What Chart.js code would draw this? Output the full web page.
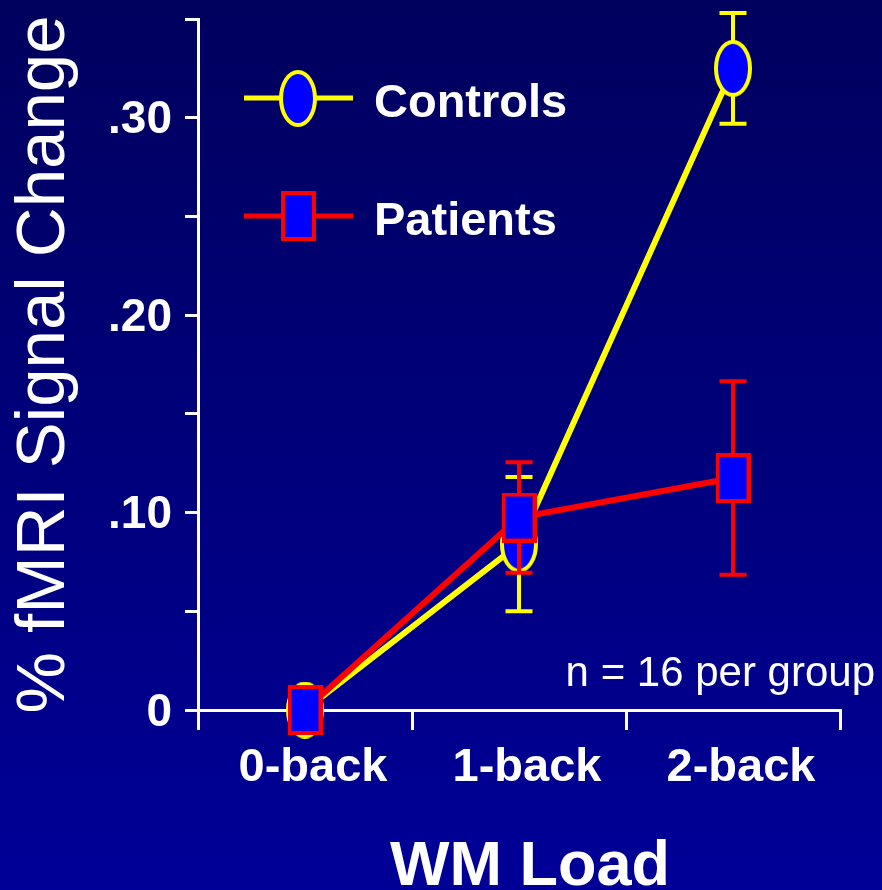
<!DOCTYPE html>
<html>
<head>
<meta charset="utf-8">
<title>fMRI Signal Change by WM Load</title>
<script src="https://cdn.jsdelivr.net/npm/chart.js@4/dist/chart.umd.min.js"></script>
<style>
  html, body { margin: 0; padding: 0; background: #000070; }
  canvas { display: block; }
</style>
</head>
<body>
<canvas id="chart" width="882" height="890"></canvas>
<script>
// Working-memory load conditions
const categories = ['0-back', '1-back', '2-back'];

// Mean % signal change and standard error per group
const controlsMean = [0, 0.084, 0.325];
const controlsSem  = [0, 0.034, 0.028];
const patientsMean = [0, 0.0975, 0.1175];
const patientsSem  = [0, 0.028, 0.049];

// Labelled y ticks (minor ticks every .05 stay unlabelled)
const yLabelValues = [0, 0.10, 0.20, 0.30];
const yLabelText   = ['0', '.10', '.20', '.30'];

const FONT = "'Liberation Sans', Arial, Helvetica, sans-serif";
const WHITE = '#FFFFFF';
const YELLOW = '#FFFF00';
const RED = '#FF0000';
const MARKER_FILL = '#0000FF';

// Marker images: yellow-rimmed ellipse and red-rimmed rectangle
function makeEllipse() {
  const c = document.createElement('canvas');
  c.width = 38; c.height = 57;
  const g = c.getContext('2d');
  g.beginPath();
  g.ellipse(19, 28.5, 17, 26.5, 0, 0, Math.PI * 2);
  g.fillStyle = MARKER_FILL;
  g.fill();
  g.lineWidth = 4;
  g.strokeStyle = YELLOW;
  g.stroke();
  return c;
}
function makeRect() {
  const c = document.createElement('canvas');
  c.width = 35; c.height = 50;
  const g = c.getContext('2d');
  g.fillStyle = MARKER_FILL;
  g.fillRect(0, 0, 35, 50);
  g.lineWidth = 4;
  g.strokeStyle = RED;
  g.strokeRect(2, 2, 31, 46);
  return c;
}
const ellipseMarker = makeEllipse();
const rectMarker = makeRect();

const errorSets = { Controls: controlsSem, Patients: patientsSem };

// Vertical gradient backdrop
const backdrop = {
  id: 'backdrop',
  beforeDraw(chart) {
    const { ctx, width, height } = chart;
    const grad = ctx.createLinearGradient(0, 0, 0, height);
    grad.addColorStop(0, '#00005E');
    grad.addColorStop(1, '#000098');
    ctx.save();
    ctx.fillStyle = grad;
    ctx.fillRect(0, 0, width, height);
    ctx.restore();
  }
};

// Mean ± SEM whiskers, drawn just beneath each group's line and markers
const errorBars = {
  id: 'errorBars',
  beforeDatasetDraw(chart, args) {
    const ds = chart.data.datasets[args.index];
    const errs = errorSets[ds.label];
    if (!errs) return;
    const y = chart.scales.y;
    const { ctx } = chart;
    ctx.save();
    ctx.strokeStyle = ds.borderColor;
    ctx.lineWidth = 4;
    ctx.lineCap = 'butt';
    args.meta.data.forEach((pt, i) => {
      const e = errs[i];
      if (!e) return;
      const top = y.getPixelForValue(ds.data[i] + e);
      const bot = y.getPixelForValue(ds.data[i] - e);
      ctx.beginPath();
      ctx.moveTo(pt.x, top);
      ctx.lineTo(pt.x, bot);
      ctx.moveTo(pt.x - 13.5, top);
      ctx.lineTo(pt.x + 13.5, top);
      ctx.moveTo(pt.x - 13.5, bot);
      ctx.lineTo(pt.x + 13.5, bot);
      ctx.stroke();
    });
    ctx.restore();
  }
};

// Legend, sample-size note and x-axis title
const annotations = {
  id: 'annotations',
  afterDraw(chart) {
    const { ctx } = chart;
    ctx.save();
    const rows = [
      { y: 98, color: YELLOW, img: ellipseMarker, text: 'Controls', base: 117 },
      { y: 216, color: RED, img: rectMarker, text: 'Patients', base: 235 }
    ];
    rows.forEach(r => {
      ctx.strokeStyle = r.color;
      ctx.lineWidth = 5;
      ctx.beginPath();
      ctx.moveTo(244, r.y);
      ctx.lineTo(353, r.y);
      ctx.stroke();
      ctx.drawImage(r.img, Math.round(298 - r.img.width / 2), Math.round(r.y - r.img.height / 2));
      ctx.fillStyle = WHITE;
      ctx.font = 'bold 47px ' + FONT;
      ctx.textAlign = 'left';
      ctx.textBaseline = 'alphabetic';
      ctx.fillText(r.text, 374, r.base);
    });

    ctx.fillStyle = WHITE;
    ctx.font = '42px ' + FONT;
    ctx.textAlign = 'right';
    ctx.fillText('n = 16 per group', 875, 686);

    ctx.font = 'bold 63px ' + FONT;
    ctx.textAlign = 'center';
    ctx.fillText('WM Load', 530, 885);
    ctx.restore();
  }
};

Chart.defaults.font.family = FONT;
Chart.defaults.color = WHITE;

new Chart(document.getElementById('chart'), {
  type: 'line',
  data: {
    labels: categories,
    datasets: [
      {
        label: 'Controls',
        data: controlsMean,
        borderColor: YELLOW,
        backgroundColor: YELLOW,
        borderWidth: 6,
        tension: 0,
        pointStyle: ellipseMarker,
        pointRadius: 20,
        pointHoverRadius: 20,
        clip: false,
        order: 1
      },
      {
        label: 'Patients',
        data: patientsMean,
        borderColor: RED,
        backgroundColor: RED,
        borderWidth: 6,
        tension: 0,
        pointStyle: rectMarker,
        pointRadius: 20,
        pointHoverRadius: 20,
        clip: false,
        order: 0
      }
    ]
  },
  options: {
    responsive: false,
    animation: false,
    events: [],
    layout: { autoPadding: false, padding: { top: 19, right: 42, left: 0, bottom: 0 } },
    plugins: {
      legend: { display: false },
      tooltip: { enabled: false }
    },
    scales: {
      x: {
        offset: true,
        grid: {
          offset: true,
          drawOnChartArea: false,
          drawTicks: true,
          tickLength: 20,
          color: WHITE,
          lineWidth: 3
        },
        border: { color: WHITE, width: 3 },
        ticks: {
          color: WHITE,
          font: { size: 47, weight: 'bold' },
          padding: 10,
          labelOffset: 8,
          maxRotation: 0,
          autoSkip: false
        },
        afterFit(scale) {
          scale.height = 180;
          scale.paddingLeft = 0;
          scale.paddingRight = 0;
        }
      },
      y: {
        min: 0,
        max: 0.35,
        grid: {
          drawOnChartArea: false,
          drawTicks: true,
          tickLength: 13,
          color: WHITE,
          lineWidth: 3
        },
        border: { color: WHITE, width: 3 },
        ticks: {
          stepSize: 0.05,
          color: WHITE,
          font: { size: 46, weight: 'bold' },
          padding: 13,
          labelOffset: 3,
          callback(value) {
            const idx = yLabelValues.findIndex(v => Math.abs(v - value) < 1e-6);
            return idx >= 0 ? yLabelText[idx] : '';
          }
        },
        title: {
          display: true,
          text: '% fMRI Signal Change',
          color: WHITE,
          font: { size: 69, weight: 'normal', lineHeight: 1 },
          padding: { top: 10, bottom: 0 }
        },
        afterFit(scale) {
          scale.width = 198;
          scale.paddingTop = 0;
          scale.paddingBottom = 0;
        }
      }
    }
  },
  plugins: [backdrop, errorBars, annotations]
});
</script>
</body>
</html>
